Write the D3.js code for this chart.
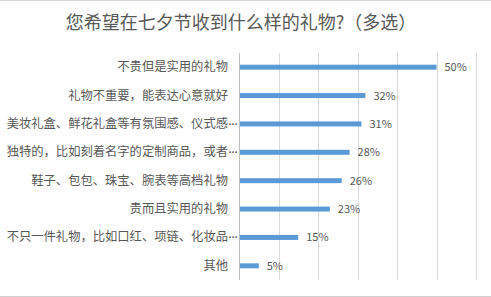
<!DOCTYPE html>
<html>
<head>
<meta charset="utf-8">
<script src="https://cdn.jsdelivr.net/npm/d3@7"></script>
<style>
  body { margin: 0; background: #fff; }
  text { font-family: "Noto Sans CJK SC", "Noto Sans", sans-serif; }
  text.dots { font-family: "DejaVu Sans", sans-serif; font-weight: bold; }
</style>
</head>
<body>
<div id="chart"></div>
<script>
// chart data
const categories = [
  "不贵但是实用的礼物",
  "礼物不重要，能表达心意就好",
  "美妆礼盒、鲜花礼盒等有氛围感、仪式感…",
  "独特的，比如刻着名字的定制商品，或者…",
  "鞋子、包包、珠宝、腕表等高档礼物",
  "贵而且实用的礼物",
  "不只一件礼物，比如口红、项链、化妆品…",
  "其他"
];
const values = [50, 32, 31, 28, 26, 23, 15, 5];
const gridTicks = [0, 10, 20, 30, 40, 50, 60];
const title = "您希望在七夕节收到什么样的礼物?（多选）";

const svgWidth = 491, svgHeight = 297;
const margin = { top: 53, right: 15, bottom: 17, left: 239 };
const width = svgWidth - margin.left - margin.right;
const height = svgHeight - margin.top - margin.bottom;

const svg = d3.select("#chart")
  .append("svg")
  .attr("width", svgWidth)
  .attr("height", svgHeight);

// frame lines top and bottom
svg.append("line")
  .attr("x1", 0).attr("x2", svgWidth).attr("y1", 0.5).attr("y2", 0.5)
  .attr("stroke", "#d9d9d9");
svg.append("line")
  .attr("x1", 0).attr("x2", svgWidth).attr("y1", 296.5).attr("y2", 296.5)
  .attr("stroke", "#d0d0d0");

svg.append("text")
  .attr("x", 241)
  .attr("y", 29)
  .attr("text-anchor", "middle")
  .attr("font-size", "18px")
  .attr("fill", "#595959")
  .text(title);

const chartGroup = svg.append("g")
  .attr("transform", `translate(${margin.left}, ${margin.top})`);

const x = d3.scaleLinear().domain([0, 60]).range([0, width]);
const y = d3.scaleBand().domain(categories).range([0, height]);

// grid lines
chartGroup.append("g")
  .selectAll("line")
  .data(gridTicks)
  .enter()
  .append("line")
  .attr("x1", d => Math.round(x(d)) + 0.5)
  .attr("x2", d => Math.round(x(d)) + 0.5)
  .attr("y1", 0)
  .attr("y2", height)
  .attr("stroke", d => d === 0 ? "#bfbfbf" : "#d9d9d9");

// bars
chartGroup.selectAll("rect.bar")
  .data(values)
  .enter()
  .append("rect")
  .attr("class", "bar")
  .attr("x", 1)
  .attr("y", (d, i) => y(categories[i]) + y.bandwidth() / 2 - 2.5)
  .attr("width", d => x(d) - 1)
  .attr("height", 5)
  .attr("fill", "#5b9bd5");

// value labels
chartGroup.selectAll("text.val")
  .data(values)
  .enter()
  .append("text")
  .attr("class", "val")
  .attr("x", d => x(d) + 8)
  .attr("y", (d, i) => y(categories[i]) + y.bandwidth() / 2 + 4)
  .attr("font-size", "11px")
  .attr("fill", "#595959")
  .text(d => d + "%");

// category labels, ellipsis drawn on its own
const labels = chartGroup.selectAll("g.lab")
  .data(categories)
  .enter()
  .append("g")
  .attr("class", "lab")
  .attr("transform", d => `translate(0, ${y(d) + y.bandwidth() / 2 + 4})`);

labels.append("text")
  .attr("x", -11)
  .attr("text-anchor", "end")
  .attr("font-size", "12.3px")
  .attr("fill", "#595959")
  .text(d => d.replace("…", ""));

labels.filter(d => d.endsWith("…"))
  .append("text")
  .attr("class", "dots")
  .attr("x", -10.5)
  .attr("y", -1)
  .attr("font-size", "8px")
  .attr("fill", "#595959")
  .text("\u00b7\u00b7\u00b7");
</script>
</body>
</html>
